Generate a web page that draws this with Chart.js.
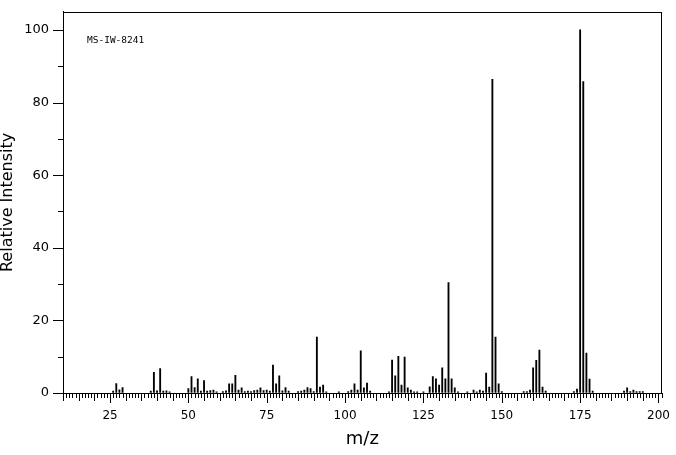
<!DOCTYPE html>
<html>
<head>
<meta charset="utf-8">
<script src="https://cdn.jsdelivr.net/npm/chart.js@4/dist/chart.umd.min.js"></script>
<style>
  html, body { margin: 0; padding: 0; background: #fff; }
  #wrap { width: 676px; height: 455px; position: relative; }
</style>
</head>
<body>
<div id="wrap"><canvas id="msChart"></canvas></div>
<script>
// peaks
const mz = [26, 27, 28, 29, 38, 39, 40, 41, 42, 43, 44,
    50, 51, 52, 53, 54, 55, 56, 57, 58, 59, 61, 62, 63, 64, 65, 66, 67, 68, 69,
    70, 71, 72, 73, 74, 75, 76, 77, 78, 79, 80, 81, 82, 85, 86, 87, 88, 89,
    90, 91, 92, 93, 94, 98, 101, 102, 103, 104, 105, 106, 107, 108,
    114, 115, 116, 117, 118, 119, 120, 121, 122, 123, 125, 127, 128, 129,
    130, 131, 132, 133, 134, 135, 136, 139, 141, 142, 143, 144, 145, 146, 147, 148, 149,
    150, 157, 158, 159, 160, 161, 162, 163, 164, 173, 174, 175, 176, 177, 178, 179,
    189, 190, 191, 192, 193, 194, 195];
const intensity = [0.5, 2.6, 0.9, 1.5, 0.5, 5.7, 0.6, 6.7, 0.5, 0.6, 0.3,
    1.2, 4.5, 1.5, 3.9, 0.5, 3.4, 0.5, 0.7, 0.8, 0.3, 0.4, 0.6, 2.5, 2.5, 4.9, 0.8, 1.4, 0.4, 0.5,
    0.4, 0.7, 0.8, 1.4, 0.7, 0.8, 0.5, 7.7, 2.5, 4.7, 0.6, 1.5, 0.5, 0.4, 0.5, 0.8, 1.5, 1.2,
    0.4, 15.4, 1.6, 2.2, 0.3, 0.3, 0.4, 0.8, 2.5, 0.8, 11.6, 1.4, 2.7, 0.5,
    0.3, 9.1, 4.7, 10.1, 2.2, 9.9, 1.4, 0.8, 0.3, 0.3, 0.3, 1.7, 4.5, 3.9,
    2.2, 6.9, 3.9, 30.4, 3.9, 1.4, 0.3, 0.3, 0.8, 0.3, 0.8, 0.5, 5.5, 1.6, 86.4, 15.4, 2.5,
    0.4, 0.4, 0.4, 0.8, 6.9, 9.0, 11.8, 1.6, 0.5, 0.4, 1.1, 100, 85.8, 11.0, 3.8, 0.5,
    0.5, 1.4, 0.4, 0.8, 0.4, 0.4, 0.4];
const xLabelStep = 25;
const yLabelStep = 20;
const sampleId = 'MS-IW-8241';

const peaks = mz.map((m, i) => ({ x: m, y: intensity[i] }));

// frame, minor/major tick marks and the sample id
const framePlugin = {
    id: 'frame',
    afterDraw(chart) {
        const c = chart.ctx;
        const a = chart.chartArea;
        const xs = chart.scales.x;
        const ys = chart.scales.y;
        c.save();
        c.strokeStyle = '#000';
        c.lineWidth = 1;
        c.strokeRect(Math.round(a.left) + 0.5, Math.round(a.top) + 0.5,
            Math.round(a.right - a.left) - 1, Math.round(a.bottom - a.top));
        c.beginPath();
        for (let v = Math.ceil(xs.min); v <= xs.max; v++) {
            const px = Math.round(xs.getPixelForValue(v)) + 0.5;
            const len = v % 25 === 0 ? 10 : (v % 5 === 0 ? 8 : 5);
            c.moveTo(px, Math.round(a.bottom));
            c.lineTo(px, Math.round(a.bottom) + len);
        }
        for (let v = 0; v <= 100; v += 10) {
            const py = Math.round(ys.getPixelForValue(v)) + 0.5;
            const len = v % 20 === 0 ? 10 : 5;
            c.moveTo(Math.round(a.left), py);
            c.lineTo(Math.round(a.left) - len, py);
        }
        c.stroke();
        c.fillStyle = '#000';
        c.font = '9.5px "DejaVu Sans Mono"';
        c.textBaseline = 'middle';
        c.fillText(sampleId, 87, 41);
        c.restore();
    }
};

const ctx = document.getElementById('msChart').getContext('2d');
const msChart = new Chart(ctx, {
    type: 'bar',
    data: {
        datasets: [{
            data: peaks,
            backgroundColor: '#000',
            borderWidth: 0,
            barThickness: 1.2,
        }]
    },
    options: {
        responsive: true,
        maintainAspectRatio: false,
        animation: false,
        layout: { padding: { top: 9, right: 12, left: 0, bottom: 0 } },
        scales: {
            x: {
                type: 'linear',
                min: 10,
                max: 201,
                offset: false,
                afterFit(scale) { scale.height = 62; },
                grid: { offset: false, drawOnChartArea: false, tickLength: 10, tickColor: 'rgba(0,0,0,0)' },
                border: { color: '#000' },
                ticks: {
                    stepSize: xLabelStep,
                    includeBounds: false,
                    autoSkip: false,
                    maxRotation: 0,
                    padding: 6,
                    color: '#000',
                    font: { family: 'DejaVu Sans', size: 12 },
                    callback: (v) => (v % xLabelStep === 0 ? String(v) : '')
                },
                title: {
                    display: true,
                    text: 'm/z',
                    color: '#000',
                    font: { family: 'DejaVu Sans', size: 18, lineHeight: 1 },
                    padding: { top: 0, bottom: 7 }
                }
            },
            y: {
                min: 0,
                max: 105,
                afterFit(scale) { scale.width = 63; },
                grid: { drawOnChartArea: false, tickLength: 10, tickColor: 'rgba(0,0,0,0)' },
                border: { color: '#000' },
                ticks: {
                    stepSize: yLabelStep,
                    includeBounds: false,
                    padding: 4,
                    color: '#000',
                    font: { family: 'DejaVu Sans', size: 13 }
                },
                title: {
                    display: true,
                    text: 'Relative Intensity',
                    color: '#000',
                    font: { family: 'DejaVu Sans', size: 16, lineHeight: 1 },
                    padding: { top: 0, bottom: 0 }
                }
            }
        },
        plugins: {
            legend: { display: false },
            tooltip: { enabled: false }
        }
    },
    plugins: [framePlugin]
});
</script>
</body>
</html>
